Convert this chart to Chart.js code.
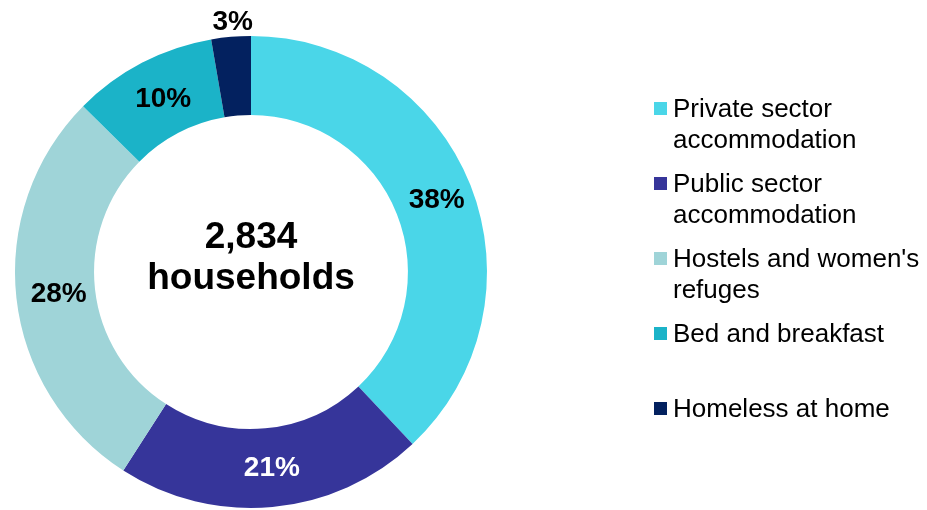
<!DOCTYPE html>
<html>
<head>
<meta charset="utf-8">
<script src="https://cdn.jsdelivr.net/npm/chart.js"></script>
<style>
  html, body { margin: 0; padding: 0; background: #fff; }
  #wrap { position: relative; width: 927px; height: 510px; }
  #legend { position: absolute; left: 0; top: 0; }
  .item { position: absolute; left: 673px; font: 26px "Liberation Sans", Arial, sans-serif; line-height: 31px; color: #000; white-space: nowrap; }
  .box { position: absolute; left: -19px; top: 9px; width: 13px; height: 13px; }
</style>
</head>
<body>
<div id="wrap">
  <canvas id="myChart" width="927" height="510"></canvas>
  <div id="legend"></div>
</div>
<script>
  // data (slice sizes estimated, labels rounded)
  const categories = [
    ["Private sector", "accommodation"],
    ["Public sector", "accommodation"],
    ["Hostels and women's", "refuges"],
    ["Bed and breakfast"],
    ["Homeless at home"]
  ];
  const shares = [38.0, 21.1, 28.3, 9.9, 2.7];
  const colours = ["#4AD6E8", "#36359A", "#9FD4D8", "#1BB3C8", "#03215F"];
  const labelColours = ["#000", "#fff", "#000", "#000", "#000"];
  const totalText = ["2,834", "households"];

  const ctx = document.getElementById('myChart');

  const labelsPlugin = {
    id: 'sliceLabels',
    afterDatasetsDraw(chart) {
      const c = chart.ctx;
      const meta = chart.getDatasetMeta(0);
      c.save();
      c.font = "bold 28px 'Liberation Sans', Arial, sans-serif";
      c.textAlign = "center";
      c.textBaseline = "middle";
      meta.data.forEach((arc, i) => {
        const p = arc.getProps(['x', 'y', 'startAngle', 'endAngle', 'innerRadius', 'outerRadius']);
        const mid = (p.startAngle + p.endAngle) / 2;
        // small slice: label sits just outside the ring
        let r = shares[i] < 5 ? p.outerRadius + 16 : (p.innerRadius + p.outerRadius) / 2;
        c.fillStyle = labelColours[i];
        c.fillText(Math.round(shares[i]) + "%", p.x + Math.cos(mid) * r + 3, p.y + Math.sin(mid) * r + 1);
      });
      // centre text
      const a = meta.data[0];
      c.fillStyle = "#000";
      c.font = "bold 37px 'Liberation Sans', Arial, sans-serif";
      c.textBaseline = "alphabetic";
      c.fillText(totalText[0], a.x, a.y - 24);
      c.fillText(totalText[1], a.x, a.y + 17);
      c.restore();
    }
  };

  new Chart(ctx, {
    type: 'doughnut',
    data: {
      labels: categories.map(l => l.join(" ")),
      datasets: [{
        data: shares,
        backgroundColor: colours,
        borderWidth: 0
      }]
    },
    options: {
      responsive: false,
      animation: false,
      cutout: '66.5%',
      layout: { padding: { left: 15, right: 440, top: 36, bottom: 2 } },
      plugins: {
        legend: { display: false },
        tooltip: { enabled: false }
      }
    },
    plugins: [labelsPlugin]
  });

  // legend, one fixed slot per entry
  const legend = document.getElementById('legend');
  categories.forEach((lines, i) => {
    const d = document.createElement('div');
    d.className = 'item';
    d.style.top = (93 + i * 75) + 'px';
    const b = document.createElement('span');
    b.className = 'box';
    b.style.background = colours[i];
    d.appendChild(b);
    d.appendChild(document.createTextNode(lines[0]));
    for (let k = 1; k < lines.length; k++) {
      d.appendChild(document.createElement('br'));
      d.appendChild(document.createTextNode(lines[k]));
    }
    legend.appendChild(d);
  });
</script>
</body>
</html>
